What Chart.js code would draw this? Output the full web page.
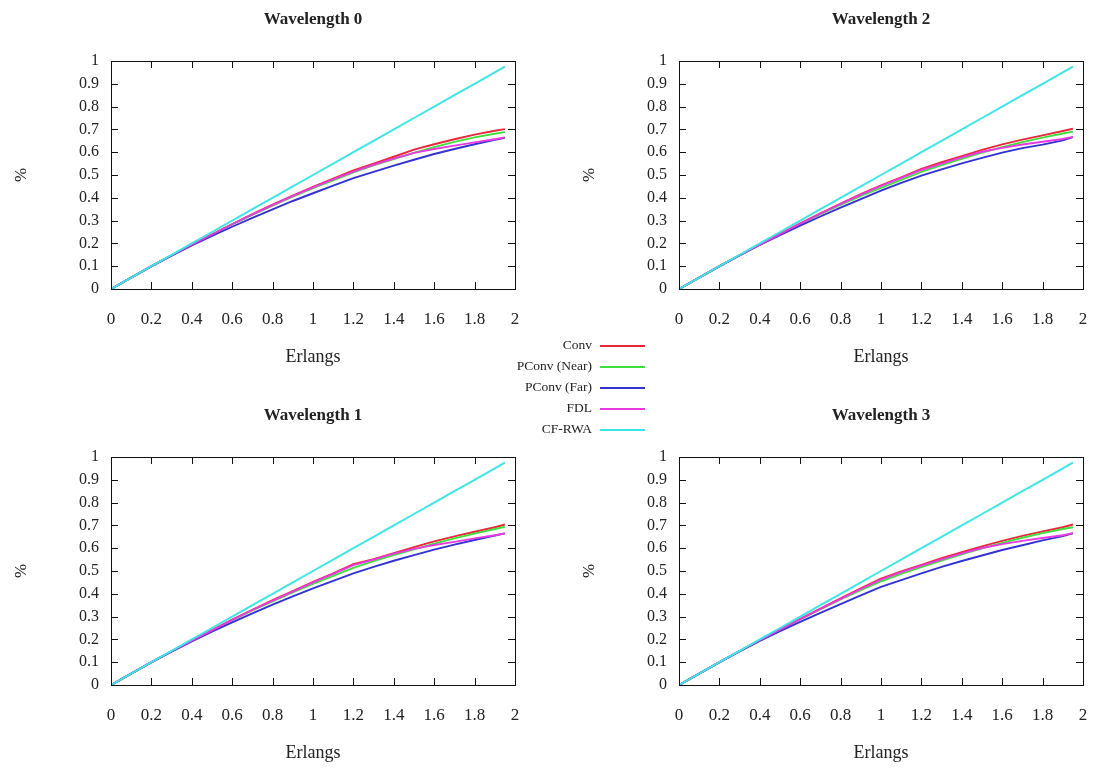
<!DOCTYPE html>
<html>
<head>
<meta charset="utf-8">
<script src="https://cdn.jsdelivr.net/npm/chart.js@4.4.1/dist/chart.umd.min.js"></script>
<style>
  html, body { margin: 0; padding: 0; background: #fff; overflow: hidden; }
  body { width: 1096px; height: 772px; position: relative; }
  .panel { position: absolute; width: 528px; height: 376px; }
  #legend { position: absolute; left: 470px; top: 335px; width: 180px; font-family: 'Liberation Serif', serif; font-size: 13.5px; color: #222; }
  #legend .row { position: absolute; left: 0; width: 180px; height: 20px; }
  #legend .lbl { position: absolute; right: 58px; top: 0; white-space: nowrap; line-height: 20px; }
  #legend .ln { position: absolute; left: 130px; top: 10px; width: 45px; height: 0; border-top: 2px solid; }
</style>
</head>
<body>
<div class="panel" style="left:0;top:0"><canvas id="w0"></canvas></div>
<div class="panel" style="left:568px;top:0"><canvas id="w2"></canvas></div>
<div class="panel" style="left:0;top:396px"><canvas id="w1"></canvas></div>
<div class="panel" style="left:568px;top:396px"><canvas id="w3"></canvas></div>
<div id="legend"></div>
<script>
const erlangs = [0, 0.1, 0.2, 0.3, 0.4, 0.5, 0.6, 0.7, 0.8, 0.9, 1.0, 1.1, 1.2, 1.3, 1.4, 1.5, 1.6, 1.7, 1.8, 1.9, 1.95];

const seriesNames = ["Conv", "PConv (Near)", "PConv (Far)", "FDL", "CF-RWA"];
const seriesColors = ["#e8283a", "#3ee03e", "#3232d2", "#e83ae0", "#3ce6e6"];

const cfRwa = [0, 0.05, 0.1, 0.15, 0.2, 0.25, 0.3, 0.35, 0.4, 0.45, 0.5, 0.55, 0.6, 0.65, 0.7, 0.75, 0.8, 0.85, 0.9, 0.95, 0.975];

// Wavelength 0
const conv0 = [0, 0.05, 0.1, 0.148, 0.195, 0.24, 0.285, 0.328, 0.37, 0.41, 0.448, 0.484, 0.52, 0.55, 0.58, 0.611, 0.635, 0.657, 0.677, 0.694, 0.701];
const near0 = [0, 0.05, 0.1, 0.148, 0.194, 0.238, 0.283, 0.325, 0.366, 0.405, 0.442, 0.477, 0.512, 0.542, 0.57, 0.597, 0.622, 0.645, 0.665, 0.681, 0.688];
const far0 = [0, 0.05, 0.099, 0.146, 0.191, 0.233, 0.273, 0.312, 0.349, 0.386, 0.42, 0.453, 0.486, 0.514, 0.541, 0.567, 0.592, 0.614, 0.635, 0.654, 0.663];
const fdl0 = [0, 0.05, 0.1, 0.148, 0.194, 0.239, 0.284, 0.327, 0.368, 0.408, 0.446, 0.481, 0.515, 0.545, 0.572, 0.597, 0.614, 0.629, 0.643, 0.657, 0.665];

// Wavelength 1
const conv1 = [0, 0.05, 0.1, 0.148, 0.195, 0.241, 0.287, 0.33, 0.372, 0.412, 0.452, 0.49, 0.53, 0.552, 0.578, 0.605, 0.63, 0.652, 0.672, 0.692, 0.704];
const near1 = [0, 0.05, 0.1, 0.148, 0.194, 0.239, 0.284, 0.327, 0.367, 0.406, 0.443, 0.479, 0.514, 0.543, 0.57, 0.595, 0.62, 0.643, 0.664, 0.684, 0.694];
const far1 = [0, 0.05, 0.099, 0.146, 0.191, 0.234, 0.275, 0.314, 0.352, 0.389, 0.424, 0.457, 0.49, 0.518, 0.545, 0.57, 0.594, 0.616, 0.636, 0.655, 0.665];
const fdl1 = [0, 0.05, 0.1, 0.148, 0.195, 0.24, 0.286, 0.329, 0.37, 0.41, 0.45, 0.487, 0.526, 0.55, 0.576, 0.597, 0.614, 0.628, 0.643, 0.657, 0.665];

// Wavelength 2
const conv2 = [0, 0.05, 0.1, 0.148, 0.196, 0.242, 0.288, 0.332, 0.375, 0.416, 0.454, 0.49, 0.527, 0.556, 0.583, 0.61, 0.634, 0.655, 0.674, 0.693, 0.703];
const near2 = [0, 0.05, 0.1, 0.148, 0.195, 0.24, 0.285, 0.328, 0.369, 0.408, 0.444, 0.479, 0.514, 0.543, 0.571, 0.598, 0.622, 0.644, 0.664, 0.682, 0.69];
const far2 = [0, 0.05, 0.099, 0.147, 0.193, 0.236, 0.278, 0.318, 0.357, 0.394, 0.431, 0.465, 0.497, 0.525, 0.551, 0.575, 0.598, 0.618, 0.633, 0.652, 0.666];
const fdl2 = [0, 0.05, 0.1, 0.148, 0.195, 0.241, 0.287, 0.33, 0.373, 0.414, 0.452, 0.487, 0.522, 0.55, 0.577, 0.602, 0.619, 0.634, 0.646, 0.658, 0.667];

// Wavelength 3
const conv3 = [0, 0.05, 0.1, 0.149, 0.197, 0.244, 0.29, 0.335, 0.38, 0.424, 0.466, 0.498, 0.527, 0.556, 0.583, 0.608, 0.632, 0.654, 0.674, 0.692, 0.704];
const near3 = [0, 0.05, 0.1, 0.149, 0.196, 0.242, 0.288, 0.332, 0.375, 0.416, 0.454, 0.487, 0.517, 0.546, 0.573, 0.599, 0.623, 0.646, 0.666, 0.684, 0.692];
const far3 = [0, 0.05, 0.099, 0.147, 0.193, 0.236, 0.277, 0.316, 0.355, 0.393, 0.43, 0.46, 0.49, 0.518, 0.544, 0.568, 0.592, 0.613, 0.634, 0.653, 0.665];
const fdl3 = [0, 0.05, 0.1, 0.149, 0.197, 0.243, 0.289, 0.334, 0.378, 0.421, 0.462, 0.495, 0.524, 0.551, 0.577, 0.601, 0.618, 0.632, 0.645, 0.657, 0.666];

const panels = [
	{ id: "w0", title: "Wavelength 0", series: [conv0, near0, far0, fdl0, cfRwa] },
	{ id: "w1", title: "Wavelength 1", series: [conv1, near1, far1, fdl1, cfRwa] },
	{ id: "w2", title: "Wavelength 2", series: [conv2, near2, far2, fdl2, cfRwa] },
	{ id: "w3", title: "Wavelength 3", series: [conv3, near3, far3, fdl3, cfRwa] },
];

const serif = "'Liberation Serif', 'Times New Roman', serif";

// gnuplot style frame with inward ticks on all four sides
const framePlugin = {
	id: "frame",
	afterDatasetsDraw(chart) {
		const ctx = chart.ctx;
		const a = chart.chartArea;
		const tl = 7;
		ctx.save();
		ctx.strokeStyle = "#111";
		ctx.lineWidth = 1;
		ctx.strokeRect(Math.round(a.left) + 0.5, Math.round(a.top) + 0.5, Math.round(a.right - a.left), Math.round(a.bottom - a.top));
		ctx.beginPath();
		chart.scales.x.ticks.forEach(t => {
			const px = Math.round(chart.scales.x.getPixelForValue(t.value)) + 0.5;
			ctx.moveTo(px, a.bottom); ctx.lineTo(px, a.bottom - tl);
			ctx.moveTo(px, a.top); ctx.lineTo(px, a.top + tl);
		});
		chart.scales.y.ticks.forEach(t => {
			const py = Math.round(chart.scales.y.getPixelForValue(t.value)) + 0.5;
			ctx.moveTo(a.left, py); ctx.lineTo(a.left + tl, py);
			ctx.moveTo(a.right, py); ctx.lineTo(a.right - tl, py);
		});
		ctx.stroke();
		ctx.restore();
	}
};

function fmt(v) {
	return String(Math.round(v * 10) / 10);
}

function makeChart(p) {
	const datasets = p.series.map((vals, i) => ({
		label: seriesNames[i],
		data: vals.map((y, j) => ({ x: erlangs[j], y: y })),
		borderColor: seriesColors[i],
		backgroundColor: seriesColors[i],
		borderWidth: 1.9,
		pointRadius: 0,
		tension: 0,
		order: 4 - i,
	}));

	new Chart(document.getElementById(p.id), {
		type: "line",
		data: { datasets: datasets },
		options: {
			responsive: true,
			maintainAspectRatio: false,
			animation: false,
			layout: { padding: { left: 0, right: 13, top: 0, bottom: 0 } },
			plugins: {
				legend: { display: false },
				tooltip: { enabled: false },
			},
			scales: {
				x: {
					type: "linear",
					min: 0,
					max: 2,
					grid: { display: false, drawTicks: true, tickLength: 17 },
					border: { display: false },
					ticks: {
						stepSize: 0.2,
						padding: 3,
						color: "#222",
						maxRotation: 0,
						font: { family: serif, size: 17 },
						callback: fmt,
					},
					title: {
						display: true,
						text: "Erlangs",
						color: "#222",
						font: { family: serif, size: 18 },
						padding: { top: 0, bottom: 8 },
					},
					afterFit: function(scale) { scale.height = 87; },
				},
				// top axis only carries the panel title, centred over the plot
				top: {
					type: "linear",
					position: "top",
					min: 0,
					max: 2,
					grid: { display: false, drawTicks: false },
					border: { display: false },
					ticks: { display: false },
					title: {
						display: true,
						text: p.title,
						color: "#222",
						font: { family: serif, size: 17, weight: "bold" },
						padding: { top: 9, bottom: 0 },
					},
					afterFit: function(scale) { scale.height = 61; },
				},
				y: {
					type: "linear",
					min: 0,
					max: 1,
					grid: { display: false, drawTicks: false },
					border: { display: false },
					ticks: {
						stepSize: 0.1,
						padding: 12,
						color: "#222",
						font: { family: serif, size: 16 },
						callback: fmt,
					},
					title: {
						display: true,
						text: "%",
						color: "#222",
						font: { family: serif, size: 17 },
						padding: { top: 11, bottom: 0 },
					},
					afterFit: function(scale) { scale.width = 111; },
				},
			},
		},
		plugins: [framePlugin],
	});
}

panels.forEach(makeChart);

// shared legend in the middle of the figure
const legend = document.getElementById("legend");
const rowTops = [0, 21, 42, 63, 84];
seriesNames.forEach((name, i) => {
	const row = document.createElement("div");
	row.className = "row";
	row.style.top = rowTops[i] + "px";
	row.innerHTML = "<span class='lbl'>" + name + "</span><span class='ln' style='border-color:" + seriesColors[i] + "'></span>";
	legend.appendChild(row);
});
</script>
</body>
</html>
